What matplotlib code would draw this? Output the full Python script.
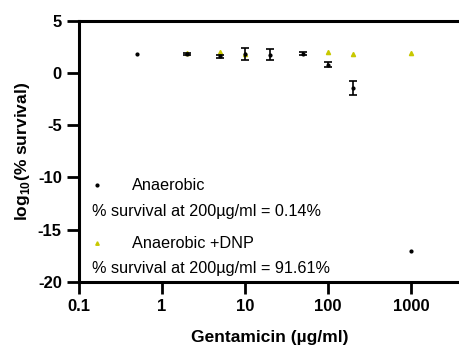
import matplotlib.pyplot as plt
import numpy as np

plt.rcParams['font.family'] = ['Liberation Sans', 'DejaVu Sans']
plt.rcParams['axes.unicode_minus'] = False
plt.rcParams['mathtext.fontset'] = 'custom'
plt.rcParams['mathtext.rm'] = 'Liberation Sans:bold'
plt.rcParams['mathtext.bf'] = 'Liberation Sans:bold'

# Anaerobic
conc_an = [0.5, 2, 5, 10, 20, 50, 100, 200, 1000]
log_an = [1.82, 1.82, 1.6, 1.82, 1.76, 1.85, 0.8, -1.43, -17.05]
err_an = [0.0, 0.08, 0.15, 0.55, 0.55, 0.18, 0.25, 0.65, 0.0]

# Anaerobic + DNP
conc_dnp = [2, 5, 10, 100, 200, 1000]
log_dnp = [1.88, 2.02, 1.82, 2.02, 1.85, 1.9]

x_ticks = [0.1, 1, 10, 100, 1000]
x_ticklabels = ['0.1', '1', '10', '100', '1000']
y_ticks = [5, 0, -5, -10, -15, -20]

fig = plt.figure(figsize=(4.6, 3.48), dpi=100)
ax = fig.add_axes([0.172, 0.19, 0.828, 0.7505])

# error bars only where there is spread
with_err = [i for i, e in enumerate(err_an) if e > 0]
ax.errorbar([conc_an[i] for i in with_err], [log_an[i] for i in with_err],
            yerr=[err_an[i] for i in with_err], fmt='none', ecolor='black',
            elinewidth=1.2, capsize=3, capthick=1.2, zorder=3)
ax.plot(conc_an, log_an, 'o', color='black', ms=2, zorder=4)
ax.plot(conc_dnp, log_dnp, '^', color='#c8c800', ms=3, zorder=2)

ax.set_xscale('log')
ax.set_xlim(0.1, 10 ** 3.59)
ax.set_ylim(-20, 5)
ax.set_xticks(x_ticks)
ax.set_xticklabels(x_ticklabels)
ax.xaxis.set_minor_locator(plt.NullLocator())
ax.set_yticks(y_ticks)

for s in ['left', 'bottom', 'top']:
    ax.spines[s].set_linewidth(2.2)
ax.spines['right'].set_visible(False)
ax.tick_params(width=2, length=8.5, labelsize=12, pad=4)
for lbl in ax.get_xticklabels() + ax.get_yticklabels():
    lbl.set_fontweight('bold')

ax.set_xlabel('Gentamicin (µg/ml)', fontsize=12.5, fontweight='bold', labelpad=11)
ax.set_ylabel('log$_{10}$(% survival)', fontsize=12.5, fontweight='bold', labelpad=4)

# legend-like annotations
ax.plot([0.165], [-10.76], 'o', color='black', ms=2)
ax.text(0.436, -10.76, 'Anaerobic', fontsize=11.7, va='center')
ax.text(0.1435, -13.27, '% survival at 200µg/ml = 0.14%', fontsize=11.7, va='center')
ax.plot([0.165], [-16.3], '^', color='#c8c800', ms=2.5)
ax.text(0.436, -16.3, 'Anaerobic +DNP', fontsize=11.7, va='center')
ax.text(0.1435, -18.7, '% survival at 200µg/ml = 91.61%', fontsize=11.7, va='center')

fig.savefig('out.png', dpi=100)
